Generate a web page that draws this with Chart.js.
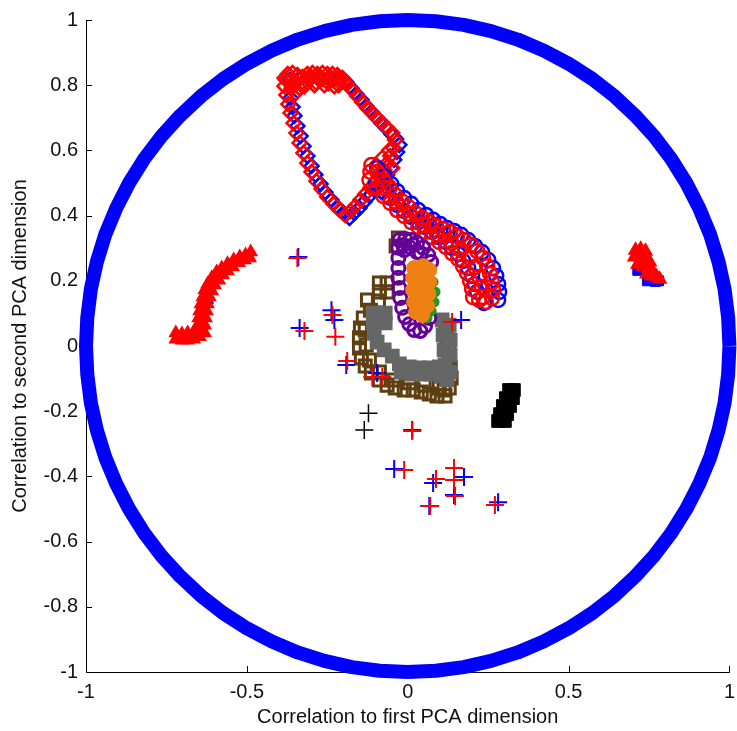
<!DOCTYPE html>
<html><head><meta charset="utf-8">
<script src="https://cdn.jsdelivr.net/npm/chart.js@4.4.0/dist/chart.umd.min.js"></script>
<style>html,body{margin:0;padding:0;background:#fff;overflow:hidden;}#wrap{width:737px;height:731px;overflow:hidden;}</style>
</head><body><div id="wrap"><canvas id="c" width="743" height="731"></canvas></div>
<script>
// ---- axes ----
const xTicks = [-1, -0.5, 0, 0.5, 1];
const xTickLabels = ['-1', '-0.5', '0', '0.5', '1'];
const yTicks = [-1, -0.8, -0.6, -0.4, -0.2, 0, 0.2, 0.4, 0.6, 0.8, 1];
const yTickLabels = ['-1', '-0.8', '-0.6', '-0.4', '-0.2', '0', '0.2', '0.4', '0.6', '0.8', '1'];
const xTitle = 'Correlation to first PCA dimension';
const yTitle = 'Correlation to second PCA dimension';

// ---- unit circle of correlations ----
const circleX = [1,.996,.985,.966,.940,.906,.866,.819,.766,.707,.643,.574,.5,.423,.342,.259,.174,.087,0,-.087,-.174,-.259,-.342,-.423,-.5,-.574,-.643,-.707,-.766,-.819,-.866,-.906,-.940,-.966,-.985,-.996,-1,-.996,-.985,-.966,-.940,-.906,-.866,-.819,-.766,-.707,-.643,-.574,-.5,-.423,-.342,-.259,-.174,-.087,0,.087,.174,.259,.342,.423,.5,.574,.643,.707,.766,.819,.866,.906,.940,.966,.985,.996,1];
const circleY = [0,.087,.174,.259,.342,.423,.5,.574,.643,.707,.766,.819,.866,.906,.940,.966,.985,.996,1,.996,.985,.966,.940,.906,.866,.819,.766,.707,.643,.574,.5,.423,.342,.259,.174,.087,0,-.087,-.174,-.259,-.342,-.423,-.5,-.574,-.643,-.707,-.766,-.819,-.866,-.906,-.940,-.966,-.985,-.996,-1,-.996,-.985,-.966,-.940,-.906,-.866,-.819,-.766,-.707,-.643,-.574,-.5,-.423,-.342,-.259,-.174,-.087,0];

// ---- loop (diamonds) ----
const blueDiamonds = [[-0.367,0.816],[-0.336,0.822],[-0.305,0.825],[-0.274,0.825],[-0.243,0.825],[-0.212,0.822],[-0.191,0.810],[-0.175,0.791],[-0.160,0.773],[-0.144,0.755],[-0.129,0.736],[-0.113,0.718],[-0.098,0.702],[-0.082,0.684],[-0.067,0.669],[-0.051,0.650],[-0.036,0.635],[-0.026,0.617],[-0.033,0.595],[-0.042,0.571],[-0.051,0.546],[-0.064,0.525],[-0.088,0.497],[-0.104,0.479],[-0.119,0.460],[-0.135,0.442],[-0.150,0.423],[-0.166,0.408],[-0.181,0.393],[-0.200,0.408],[-0.219,0.426],[-0.237,0.448],[-0.256,0.472],[-0.271,0.497],[-0.287,0.525],[-0.299,0.552],[-0.312,0.583],[-0.324,0.613],[-0.333,0.644],[-0.343,0.675],[-0.352,0.706],[-0.358,0.733],[-0.364,0.761]];
const redDiamonds = [[-0.383,0.822],[-0.373,0.834],[-0.358,0.837],[-0.343,0.831],[-0.327,0.825],[-0.312,0.834],[-0.296,0.837],[-0.281,0.834],[-0.265,0.837],[-0.250,0.834],[-0.234,0.834],[-0.219,0.831],[-0.203,0.822],[-0.367,0.810],[-0.352,0.804],[-0.336,0.791],[-0.349,0.776],[-0.361,0.791],[-0.383,0.797],[-0.305,0.816],[-0.274,0.816],[-0.243,0.816],[-0.212,0.810],[-0.321,0.797],[-0.290,0.800],[-0.259,0.800],[-0.228,0.797],[-0.378,0.816],[-0.358,0.820],[-0.327,0.810],[-0.300,0.825],[-0.285,0.808],[-0.265,0.820],[-0.247,0.806],[-0.228,0.818],[-0.215,0.800],[-0.200,0.812],[-0.188,0.804],[-0.172,0.785],[-0.157,0.767],[-0.141,0.748],[-0.126,0.730],[-0.110,0.715],[-0.095,0.699],[-0.079,0.684],[-0.064,0.669],[-0.048,0.653],[-0.039,0.632],[-0.045,0.607],[-0.054,0.583],[-0.064,0.561],[-0.073,0.540],[-0.088,0.521],[-0.057,0.601],[-0.079,0.577],[-0.098,0.555],[-0.048,0.546],[-0.064,0.503],[-0.082,0.472],[-0.101,0.503],[-0.116,0.485],[-0.132,0.466],[-0.147,0.448],[-0.163,0.429],[-0.178,0.414],[-0.194,0.402],[-0.212,0.417],[-0.231,0.436],[-0.250,0.457],[-0.268,0.482],[-0.284,0.506],[-0.299,0.534],[-0.312,0.561],[-0.324,0.592],[-0.336,0.623],[-0.346,0.653],[-0.355,0.684],[-0.364,0.715],[-0.371,0.742],[-0.377,0.770]];

// ---- tail (circles) ----
const blueCircles = [[-0.095,0.546],[-0.073,0.521],[-0.051,0.497],[-0.033,0.475],[-0.011,0.454],[0.011,0.436],[0.033,0.417],[0.057,0.402],[0.079,0.387],[0.101,0.374],[0.122,0.362],[0.144,0.353],[0.166,0.341],[0.188,0.325],[0.209,0.307],[0.231,0.288],[0.250,0.264],[0.265,0.239],[0.275,0.215],[0.281,0.190],[0.284,0.166],[0.281,0.141],[-0.098,0.500],[-0.076,0.475],[-0.054,0.454],[-0.033,0.433],[-0.011,0.414],[0.011,0.396],[0.033,0.380],[0.054,0.365],[0.076,0.350],[0.098,0.334],[0.119,0.319],[0.138,0.301],[0.157,0.282],[0.172,0.261],[0.188,0.239],[0.200,0.215],[0.209,0.190],[0.216,0.166],[0.237,0.132]];
const redCircles = [[-0.113,0.555],[-0.095,0.534],[-0.076,0.509],[-0.057,0.485],[-0.039,0.463],[-0.020,0.445],[0.002,0.426],[0.023,0.408],[0.045,0.393],[0.067,0.380],[0.088,0.368],[0.110,0.359],[0.132,0.350],[0.153,0.337],[0.175,0.325],[0.197,0.310],[0.216,0.291],[0.234,0.270],[0.247,0.245],[0.256,0.221],[0.262,0.196],[0.265,0.172],[0.262,0.147],[-0.116,0.534],[-0.076,0.485],[-0.036,0.442],[0.005,0.405],[0.048,0.371],[0.091,0.343],[0.135,0.316],[0.166,0.294],[0.191,0.270],[0.209,0.242],[0.222,0.212],[0.231,0.181],[0.234,0.150],[-0.119,0.509],[-0.098,0.485],[-0.076,0.460],[-0.054,0.439],[-0.033,0.417],[-0.011,0.399],[0.011,0.380],[0.033,0.365],[0.054,0.350],[0.076,0.334],[0.098,0.319],[0.119,0.304],[0.138,0.285],[0.157,0.267],[0.172,0.245],[0.184,0.224],[0.194,0.199],[0.200,0.175],[0.203,0.150],[0.222,0.141],[0.243,0.135]];

// ---- left arc ----
const blueArc = [[-0.715,0.030],[-0.690,0.028],[-0.660,0.032],[-0.645,0.045],[-0.640,0.060],[-0.638,0.095],[-0.633,0.120],[-0.620,0.140],[-0.626,0.160],[-0.614,0.190],[-0.598,0.215],[-0.575,0.235],[-0.553,0.250],[-0.530,0.262],[-0.505,0.274]];
const redArc = [[-0.721,0.040],[-0.721,0.021],[-0.702,0.037],[-0.702,0.018],[-0.684,0.040],[-0.684,0.018],[-0.665,0.043],[-0.665,0.021],[-0.647,0.049],[-0.647,0.028],[-0.631,0.040],[-0.653,0.064],[-0.631,0.064],[-0.650,0.086],[-0.628,0.086],[-0.647,0.107],[-0.625,0.107],[-0.643,0.129],[-0.622,0.129],[-0.637,0.150],[-0.616,0.150],[-0.631,0.172],[-0.609,0.169],[-0.622,0.190],[-0.600,0.187],[-0.609,0.209],[-0.587,0.202],[-0.594,0.227],[-0.575,0.218],[-0.578,0.239],[-0.560,0.230],[-0.560,0.252],[-0.544,0.242],[-0.541,0.264],[-0.525,0.255],[-0.522,0.273],[-0.507,0.264],[-0.504,0.279],[-0.491,0.270],[-0.488,0.288]];

// ---- right blob ----
const blueBlob = [[0.715,0.232],[0.745,0.225],[0.745,0.200],[0.770,0.198],[0.780,0.200]];
const redBlob = [[0.708,0.294],[0.724,0.297],[0.739,0.291],[0.705,0.273],[0.721,0.273],[0.736,0.267],[0.752,0.258],[0.715,0.251],[0.730,0.245],[0.746,0.239],[0.761,0.230],[0.743,0.221],[0.758,0.215],[0.774,0.212],[0.783,0.205]];

// ---- central clusters ----
const brownSquares = [[-0.029,0.331],[-0.036,0.307],[-0.088,0.193],[-0.064,0.193],[-0.088,0.166],[-0.064,0.166],[-0.091,0.138],[-0.125,0.141],[-0.116,0.110],[-0.138,0.086],[-0.147,0.055],[-0.132,0.049],[-0.150,0.025],[-0.150,-0.006],[-0.129,0.003],[-0.144,-0.037],[-0.119,-0.043],[-0.132,-0.061],[-0.113,-0.083],[-0.088,-0.080],[-0.088,-0.104],[-0.064,-0.120],[-0.042,-0.104],[-0.039,-0.129],[-0.011,-0.135],[0.005,-0.113],[0.017,-0.135],[0.042,-0.141],[0.051,-0.120],[0.067,-0.147],[0.091,-0.153],[0.098,-0.129],[0.116,-0.153],[0.113,-0.135],[0.129,-0.129],[0.135,-0.098],[0.132,-0.067],[0.129,-0.037],[0.126,-0.006],[0.122,0.025],[0.119,0.055]];
const greySquares = [[-0.107,0.101],[-0.070,0.101],[-0.107,0.071],[-0.070,0.071],[-0.104,0.040],[-0.095,0.012],[-0.073,-0.012],[-0.048,-0.031],[-0.026,-0.055],[0.005,-0.064],[0.036,-0.067],[0.067,-0.067],[0.098,-0.064],[-0.020,-0.080],[0.011,-0.086],[0.042,-0.086],[0.073,-0.086],[0.104,-0.092],[0.107,0.080],[0.129,0.064],[0.110,0.034],[0.132,0.018],[0.113,-0.012],[0.132,-0.028],[0.116,-0.058],[0.132,-0.080],[0.122,-0.104]];
const purpleCircles = [[-0.026,0.325],[-0.008,0.328],[0.011,0.325],[0.029,0.316],[0.048,0.301],[0.064,0.279],[0.073,0.258],[-0.029,0.301],[-0.029,0.270],[-0.029,0.239],[-0.029,0.209],[-0.026,0.178],[-0.023,0.147],[-0.017,0.117],[-0.008,0.089],[0.005,0.067],[0.020,0.049],[0.039,0.046],[0.054,0.061],[0.067,0.086],[0.005,0.304],[0.029,0.288],[-0.011,0.294],[-0.014,0.310],[0.017,0.310],[0.040,0.285]];
const greenDots = [[0.079,0.196],[0.085,0.166],[0.082,0.135],[0.073,0.107],[0.060,0.086]];
const orangeDots = [[0.020,0.239],[0.048,0.245],[0.067,0.233],[0.017,0.209],[0.048,0.209],[0.067,0.196],[0.017,0.172],[0.045,0.172],[0.064,0.160],[0.020,0.135],[0.045,0.135],[0.060,0.123],[0.026,0.104],[0.045,0.095]];
const blackBlob = [[0.315,-0.135],[0.330,-0.135],[0.305,-0.160],[0.327,-0.160],[0.296,-0.184],[0.318,-0.184],[0.287,-0.209],[0.309,-0.209],[0.281,-0.230],[0.302,-0.230]];

// ---- crosses ----
const blueCrosses = [[-0.340,0.273],[-0.336,0.055],[-0.237,0.110],[-0.228,0.080],[-0.191,-0.058],[-0.095,-0.083],[0.014,-0.258],[-0.042,-0.377],[0.079,-0.420],[0.175,-0.402],[0.144,-0.457],[0.067,-0.491],[0.281,-0.479],[0.166,0.080]];
const redCrosses = [[-0.343,0.270],[-0.321,0.046],[-0.234,0.095],[-0.225,0.028],[-0.188,-0.046],[-0.110,-0.095],[-0.079,-0.095],[0.014,-0.261],[-0.011,-0.380],[0.088,-0.408],[0.144,-0.374],[0.144,-0.411],[0.147,-0.460],[0.070,-0.491],[0.271,-0.488],[0.138,0.074]];
const blackCrosses = [[-0.122,-0.206],[-0.135,-0.258]];

const pts = a => a.map(p => ({x: p[0], y: p[1]}));
const none = 'rgba(0,0,0,0)';
function marks(data, style, r, stroke, fill, bw) {
  return {data: pts(data), pointStyle: style, pointRadius: r, pointBorderColor: stroke,
    pointBackgroundColor: fill, pointBorderWidth: bw, showLine: false, clip: false};
}

// bottom-to-top drawing order
const layers = [
  {data: circleX.map((v, i) => ({x: v, y: circleY[i]})), showLine: true, borderColor: '#0000FF',
    borderWidth: 14, pointRadius: 0, borderJoinStyle: 'round', clip: false, fill: false},
  marks(blueDiamonds, 'rectRot', 7, '#0000FF', none, 2.5),
  marks(redDiamonds, 'rectRot', 7, '#FF0000', none, 2.5),
  marks(blueCircles, 'circle', 7, '#0000FF', none, 2.5),
  marks(redCircles, 'circle', 7, '#FF0000', none, 2.5),
  marks(brownSquares, 'rect', 8.5, '#5E3F12', none, 3),
  marks(greySquares, 'rect', 9, '#666666', '#666666', 2),
  marks(purpleCircles, 'circle', 6.5, '#660099', none, 3),
  marks(greenDots, 'circle', 5, '#1E9A1E', '#1E9A1E', 1),
  marks(orangeDots, 'circle', 7.5, '#EE8014', '#EE8014', 1),
  marks(blackBlob, 'rect', 9, '#000000', '#000000', 1),
  marks(blueArc, 'triangle', 6, '#0000FF', '#0000FF', 1),
  marks(redArc, 'triangle', 7, '#FF0000', '#FF0000', 1.5),
  marks(blueBlob, 'rect', 7, '#0000FF', '#0000FF', 1),
  marks(redBlob, 'triangle', 7.5, '#FF0000', '#FF0000', 1.5),
  marks(blueCrosses, 'cross', 9, '#0000FF', none, 2),
  marks(redCrosses, 'cross', 9, '#FF0000', none, 2),
  marks(blackCrosses, 'cross', 9, '#000000', none, 1.5)
];
layers.forEach((d, i) => { d.order = layers.length - i; });

const inwardTicks = {
  id: 'inwardTicks',
  beforeDatasetsDraw(chart) {
    const {ctx, chartArea: a, scales: {x, y}} = chart;
    ctx.save();
    ctx.strokeStyle = '#000'; ctx.lineWidth = 1;
    ctx.beginPath();
    xTicks.forEach(v => { const p = Math.round(x.getPixelForValue(v)) + 0.5; ctx.moveTo(p, a.bottom); ctx.lineTo(p, a.bottom - 6); });
    yTicks.forEach(v => { const p = Math.round(y.getPixelForValue(v)) + 0.5; ctx.moveTo(a.left, p); ctx.lineTo(a.left + 6, p); });
    ctx.stroke();
    ctx.restore();
  }
};

const font = {family: '"Liberation Sans", Arial, Helvetica, sans-serif', size: 20};
new Chart(document.getElementById('c'), {
  type: 'scatter',
  data: {datasets: layers},
  options: {
    responsive: false, animation: false, devicePixelRatio: 1,
    layout: {padding: {top: 20, right: 0, left: 0, bottom: 0}},
    plugins: {legend: {display: false}, tooltip: {enabled: false}},
    scales: {
      x: {
        type: 'linear', min: -1, max: 1,
        afterBuildTicks: s => { s.ticks = xTicks.map(v => ({value: v})); },
        afterFit: s => { s.height = 59; },
        ticks: {font, color: '#111', padding: 8, maxRotation: 0, autoSkip: false,
          callback: v => xTickLabels[xTicks.indexOf(v)]},
        grid: {display: true, drawOnChartArea: false, drawTicks: false},
        border: {display: true, color: '#000', width: 1},
        title: {display: true, text: xTitle, font, color: '#111', padding: {top: 0, bottom: 2}}
      },
      y: {
        type: 'linear', min: -1, max: 1,
        afterBuildTicks: s => { s.ticks = yTicks.map(v => ({value: v})); },
        afterFit: s => { s.width = 86; },
        ticks: {font, color: '#111', padding: 8, autoSkip: false,
          callback: v => yTickLabels[yTicks.indexOf(v)]},
        grid: {display: true, drawOnChartArea: false, drawTicks: false},
        border: {display: true, color: '#000', width: 1},
        title: {display: true, text: yTitle, font, color: '#111', padding: {top: 8, bottom: 0}}
      }
    }
  },
  plugins: [inwardTicks]
});
</script>
</body></html>
